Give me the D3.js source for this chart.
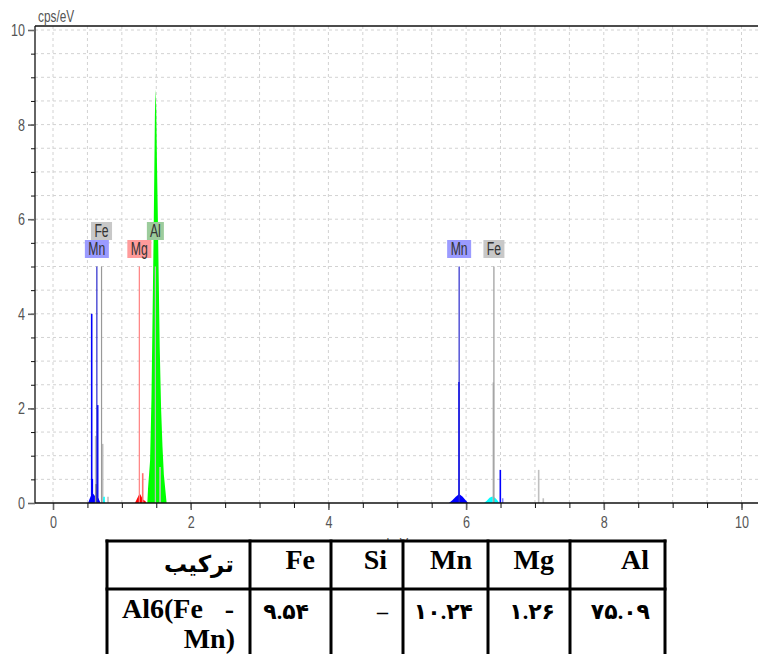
<!DOCTYPE html>
<html lang="fa">
<head>
<meta charset="UTF-8">
<title>EDS spectrum Al6(Fe-Mn)</title>
<script src="https://d3js.org/d3.v7.min.js"></script>
<style>
  body { margin: 0; background: #fff; }
  svg { display: block; }
  .lbl { font-family: "Liberation Sans", Arial, sans-serif; fill: #444;
         transform-box: fill-box; transform-origin: center; transform: scaleX(0.74); }
  .tag { transform: scaleX(0.68); }
  .cell { font-family: "Liberation Serif", "DejaVu Sans", serif; font-weight: bold; fill: #000; }
</style>
</head>
<body>
<div id="chart"></div>
<script>
// spectrum fills, [keV, cps/eV]
const alFill = [[1.37,0],[1.38,0.3],[1.41,0.9],[1.43,2.2],[1.44,3.3],[1.46,5.5],[1.47,6.8],[1.48,8.2],[1.49,8.75],[1.50,8.3],[1.51,7.2],[1.52,6.3],[1.53,5.3],[1.55,3.3],[1.57,2.0],[1.59,1.2],[1.61,0.6],[1.63,0.3],[1.65,0]];
const mgFill = [[1.19,0],[1.21,0.06],[1.24,0.15],[1.26,0.2],[1.28,0.15],[1.31,0.07],[1.34,0.04],[1.36,0]];
const mnLFill = [[0.51,0],[0.53,0.08],[0.55,0.15],[0.58,0.2],[0.61,0.15],[0.64,0.12],[0.66,0.1],[0.69,0]];
const feLFill = [[0.70,0],[0.73,0.1],[0.76,0]];
const mnKFill = [[5.75,0],[5.80,0.06],[5.85,0.13],[5.90,0.19],[5.95,0.13],[6.00,0.05],[6.03,0]];
const feKFill = [[6.26,0],[6.30,0.05],[6.34,0.11],[6.38,0.14],[6.42,0.11],[6.46,0.05],[6.48,0]];

// single channel spikes
const spikes = [
  {el: "Mn", e: 0.562, v: 4.0},
  {el: "Mn", e: 0.571, v: 0.51},
  {el: "Fe", e: 0.620, v: 1.42},
  {el: "bg", e: 0.629, v: 0.40},
  {el: "Mn", e: 0.649, v: 2.07},
  {el: "Fe", e: 0.722, v: 1.25},
  {el: "FeK", e: 0.741, v: 0.13},
  {el: "Fe", e: 0.799, v: 0.13},
  {el: "Mg", e: 1.303, v: 0.63},
  {el: "Fe", e: 1.555, v: 0.76},
  {el: "Mn", e: 5.897, v: 2.56},
  {el: "Fe", e: 6.395, v: 2.55},
  {el: "Mn", e: 6.497, v: 0.70},
  {el: "MnLight", e: 6.531, v: 0.10},
  {el: "Fe", e: 7.054, v: 0.70},
  {el: "Fe", e: 7.121, v: 0.10}
];

// element identification markers
const markerEls = ["Mn", "Fe", "Mg", "Al", "Mn", "Fe"];
const markerKeV = [0.637, 0.705, 1.254, 1.487, 5.899, 6.404];
const markerHeight = 5;

const xTicks = [0, 2, 4, 6, 8, 10];
const yTicks = [0, 2, 4, 6, 8, 10];

// composition table
const tableHead = ["ترکیب", "Fe", "Si", "Mn", "Mg", "Al"];
const tableRow = ["Al6(Fe - Mn)", "۹.۵۴", "–", "۱۰.۲۴", "۱.۲۶", "۷۵.۰۹"];

const fillColor = {Al: "#00ff00", Mg: "#ff0000", Mn: "#0000ff", FeL: "#00e5ee", FeK: "#00ffff"};
const spikeColor = {Mn: "#0000ff", Fe: "#c0c0c0", bg: "#666", FeK: "#00ffff", Mg: "#ff7070", MnLight: "#8080ff"};
const boxColor = {Mn: "#9b9bff", Fe: "#c8c8c8", Mg: "#ff9b9b", Al: "#9ccc9c"};
const lineColor = {Mn: "#2a2acc", Fe: "#999", Mg: "#ff8080", Al: "#bbb"};

const W = 758, H = 654;
const svg = d3.select("#chart").append("svg").attr("width", W).attr("height", H);

const x = d3.scaleLinear().domain([0, 10]).range([53, 741.5]);
const y = d3.scaleLinear().domain([0, 10]).range([503, 30]);
const plotLeft = 35, plotTop = 26, plotRight = W;

// grid
const g = svg.append("g");
g.selectAll(".vg").data(d3.range(0, 10.01, 0.5)).enter().append("line")
  .attr("x1", d => x(d)).attr("x2", d => x(d)).attr("y1", plotTop).attr("y2", y(0))
  .attr("stroke", "#d2d2d2").attr("stroke-dasharray", "3,3");
g.selectAll(".hg").data(d3.range(0.5, 10.01, 0.5)).enter().append("line")
  .attr("x1", plotLeft).attr("x2", plotRight).attr("y1", d => y(d)).attr("y2", d => y(d))
  .attr("stroke", "#d2d2d2").attr("stroke-dasharray", "3,3");

// fills
const area = d3.area().x(d => x(d[0])).y0(y(0)).y1(d => y(d[1]));
[[mnLFill, "Mn"], [feLFill, "FeL"], [mgFill, "Mg"], [alFill, "Al"], [mnKFill, "Mn"], [feKFill, "FeK"]]
  .forEach(([pts, el]) => {
    svg.append("path").datum(pts).attr("d", area).attr("fill", fillColor[el]);
  });

// spikes
svg.selectAll(".spike").data(spikes).enter().append("line")
  .attr("x1", d => x(d.e)).attr("x2", d => x(d.e))
  .attr("y1", y(0)).attr("y2", d => y(d.v))
  .attr("stroke", d => spikeColor[d.el]).attr("stroke-width", 1.6);

// markers with labels, stacked when they collide
const boxH = 18, rowBase = 258;
const placed = [];
const markers = markerEls.map((el, i) => {
  const cx = x(markerKeV[i]);
  const w = el === "Al" ? 17 : (el === "Fe" ? 21 : 24);
  let row = 0;
  while (placed.some(p => p.row === row && Math.abs(p.cx - cx) < (p.w + w) / 2)) row++;
  const m = {el, cx, w, row};
  placed.push(m);
  return m;
});

svg.selectAll(".mline").data(markers).enter().append("line")
  .attr("x1", d => d.cx).attr("x2", d => d.cx)
  .attr("y1", y(markerHeight)).attr("y2", y(0))
  .attr("stroke", d => lineColor[d.el]).attr("stroke-width", 1.2);

const mg = svg.selectAll(".mlab").data(markers).enter().append("g");
mg.append("rect")
  .attr("x", d => d.cx - d.w / 2).attr("y", d => rowBase - boxH * (d.row + 1))
  .attr("width", d => d.w).attr("height", boxH)
  .attr("fill", d => boxColor[d.el]);
mg.append("text").attr("class", "lbl tag")
  .attr("x", d => d.cx).attr("y", d => rowBase - boxH * d.row - 3)
  .attr("text-anchor", "middle").attr("font-size", 18).style("fill", "#333")
  .text(d => d.el);

// axes
svg.append("line").attr("x1", plotLeft).attr("x2", plotRight).attr("y1", plotTop).attr("y2", plotTop)
  .attr("stroke", "#111").attr("stroke-width", 1.3);
svg.append("line").attr("x1", plotLeft).attr("x2", plotLeft).attr("y1", plotTop).attr("y2", y(0))
  .attr("stroke", "#111").attr("stroke-width", 1.3);

const xMinor = svg.append("g").attr("transform", `translate(0,${y(0)})`)
  .call(d3.axisBottom(x).tickValues(d3.range(0, 10.01, 0.5)).tickSize(5).tickFormat(""));
const xMajor = svg.append("g").attr("transform", `translate(0,${y(0)})`)
  .call(d3.axisBottom(x).tickValues(xTicks).tickSize(7).tickPadding(6).tickFormat(d3.format("d")));
const yMinor = svg.append("g").attr("transform", `translate(${plotLeft},0)`)
  .call(d3.axisLeft(y).tickValues(d3.range(0, 10.01, 0.5)).tickSize(4).tickFormat(""));
const yMajor = svg.append("g").attr("transform", `translate(${plotLeft},0)`)
  .call(d3.axisLeft(y).tickValues(yTicks).tickSize(7).tickPadding(3).tickFormat(d3.format("d")));

[xMinor, xMajor, yMinor, yMajor].forEach(a => a.select(".domain").remove());
[xMinor, yMinor].forEach(a => a.selectAll("line").attr("stroke", "#111"));
[xMajor, yMajor].forEach(a => {
  a.selectAll("line").attr("stroke", "#666").attr("stroke-width", 1.6);
  a.selectAll("text").attr("class", "lbl").attr("font-size", 17).style("fill", "#555");
});
yMajor.selectAll("text").style("transform-origin", "right center");
svg.append("line").attr("x1", plotLeft).attr("x2", plotRight).attr("y1", y(0)).attr("y2", y(0))
  .attr("stroke", "#111").attr("stroke-width", 1.5);

svg.append("text").attr("class", "lbl").attr("x", 38).attr("y", 22)
  .attr("font-size", 16).style("fill", "#555").style("transform-origin", "left center").text("cps/eV");
svg.append("text").attr("class", "lbl").attr("x", x(5)).attr("y", 550)
  .attr("text-anchor", "middle").attr("font-size", 17).style("fill", "#555").text("keV");

// table
const colEdges = [107, 250, 331, 403, 488, 570, 665];
const rowEdges = [541, 589, 670];
const tb = svg.append("g");
tb.append("rect").attr("x", colEdges[0]).attr("y", rowEdges[0])
  .attr("width", colEdges[6] - colEdges[0]).attr("height", rowEdges[2] - rowEdges[0]).attr("fill", "#fff");

tb.selectAll(".hd").data(tableHead).enter().append("text").attr("class", "cell")
  .attr("x", (d, i) => colEdges[i + 1] - 16).attr("y", (d, i) => i === 0 ? 572 : 569)
  .attr("text-anchor", "end").attr("font-size", (d, i) => i === 0 ? 23 : 28).text(d => d);

tableRow.forEach((d, i) => {
  if (i === 0) {
    const words = d.split(" ");
    tb.append("text").attr("class", "cell").attr("x", 122).attr("y", 618).attr("font-size", 28).text(words[0]);
    tb.append("text").attr("class", "cell").attr("x", colEdges[1] - 16).attr("y", 618)
      .attr("text-anchor", "end").attr("font-size", 28).text(words[1]);
    tb.append("text").attr("class", "cell").attr("x", colEdges[1] - 15).attr("y", 648)
      .attr("text-anchor", "end").attr("font-size", 28).text(words.slice(2).join(" "));
  } else {
    tb.append("text").attr("class", "cell").attr("x", colEdges[i + 1] - (i === 1 ? 22 : 15)).attr("y", 619)
      .attr("text-anchor", "end").attr("font-size", 22).text(d);
  }
});

tb.selectAll(".vl").data(colEdges).enter().append("line")
  .attr("x1", d => d).attr("x2", d => d).attr("y1", rowEdges[0] - 1.5).attr("y2", rowEdges[2])
  .attr("stroke", "#000").attr("stroke-width", 3);
tb.selectAll(".hl").data(rowEdges.slice(0, 2)).enter().append("line")
  .attr("x1", colEdges[0] - 1.5).attr("x2", colEdges[6] + 1.5).attr("y1", d => d).attr("y2", d => d)
  .attr("stroke", "#000").attr("stroke-width", 3);
</script>
</body>
</html>
